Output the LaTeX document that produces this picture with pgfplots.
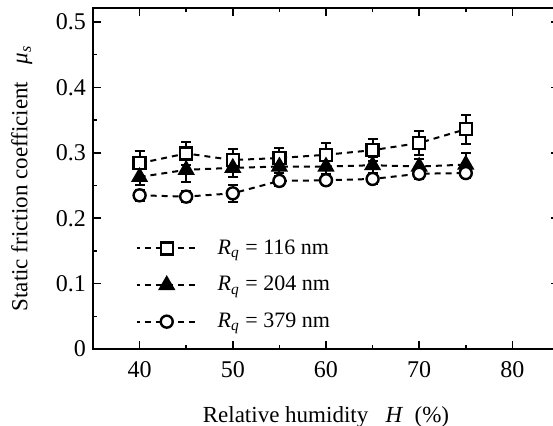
\documentclass[border=0pt]{standalone}
\usepackage{pgfplots}
\pgfplotsset{compat=1.18}
\usepackage{fontspec}
\setmainfont{Liberation Serif}

\begin{document}
\begin{tikzpicture}
\begin{axis}[
    name=ax,
    at={(0,0)}, anchor=south west,
    scale only axis,
    width=233pt, height=170.5pt,
    xmin=35, xmax=85,
    ymin=0, ymax=0.5214,
    xtick={40,50,...,80},
    ytick={0,0.1,...,0.5},
    minor x tick num=1,
    minor y tick num=1,
    tick align=inside,
    major tick length=4pt,
    minor tick length=2pt,
    axis line style={line width=1pt},
    every tick/.style={black, line width=0.8pt},
    tick label style={font=\fontsize{12}{14}\selectfont},
    xticklabel style={yshift=-2.5pt},
    /pgf/number format/assume math mode=true,
    yticklabel style={/pgf/number format/fixed, /pgf/number format/precision=1},
    xlabel={Relative humidity\ \ \ \textit{H}\ \ (\%)},
    ylabel={Static friction coefficient\ \ \ \textit{μ}\textsubscript{\textit{s}}},
    label style={font=\fontsize{11.5}{13}\selectfont},
    xlabel style={yshift=-8pt},
    ylabel style={yshift=5pt},
    legend style={draw=none, fill=none, at={(axis cs:38.9,0.180)}, anchor=north west,
        font=\fontsize{11}{13}\selectfont, row sep=5.5pt,
        nodes={inner xsep=10pt}},
    legend cell align=left,
    legend image code/.code={
        \draw[#1, dash pattern=on 3pt off 2.5pt, dash phase=1.5pt] (0pt,0pt) -- (30pt,0pt);
        \draw[#1, draw=none] plot coordinates {(15pt,0pt)};
    },
    error bars/error bar style={solid, line width=1pt},
    error bars/error mark options={solid, rotate=90, mark size=2.5pt, line width=1pt},
]
\addplot[black, line width=1pt, dash pattern=on 3pt off 2.5pt,
    mark=square*, mark size=3pt, mark options={solid, fill=white, draw=black, line width=1.2pt},
    error bars/.cd, y dir=both, y explicit]
    coordinates {(40,0.284) +- (0,0.019) (45,0.299) +- (0,0.017) (50,0.289) +- (0,0.017)
                 (55,0.292) +- (0,0.015) (60,0.297) +- (0,0.018) (65,0.304) +- (0,0.017)
                 (70,0.315) +- (0,0.019) (75,0.336) +- (0,0.022)};
\addlegendentry{\textit{R}\textsubscript{\textit{q}} = 116 nm}
\addplot[black, line width=1pt, dash pattern=on 3pt off 2.5pt,
    mark=triangle*, mark size=4pt, mark options={solid, fill=black, draw=black},
    error bars/.cd, y dir=both, y explicit]
    coordinates {(40,0.263) +- (0,0.012) (45,0.274) +- (0,0.018) (50,0.277) +- (0,0.014)
                 (55,0.279) +- (0,0.010) (60,0.279) +- (0,0.012) (65,0.281) +- (0,0.012)
                 (70,0.279) +- (0,0.012) (75,0.282) +- (0,0.018)};
\addlegendentry{\textit{R}\textsubscript{\textit{q}} = 204 nm}
\addplot[black, line width=1pt, dash pattern=on 3pt off 2.5pt,
    mark=*, mark size=3pt, mark options={solid, fill=white, draw=black, line width=1.2pt},
    error bars/.cd, y dir=both, y explicit]
    coordinates {(40,0.235) +- (0,0.008) (45,0.233) +- (0,0.008) (50,0.238) +- (0,0.013)
                 (55,0.257) +- (0,0.008) (60,0.258) +- (0,0.008) (65,0.260) +- (0,0.008)
                 (70,0.268) +- (0,0.008) (75,0.269) +- (0,0.008)};
\addlegendentry{\textit{R}\textsubscript{\textit{q}} = 379 nm}
\end{axis}
\pgfresetboundingbox
\path[use as bounding box] (-46.5pt,-38pt) rectangle (230pt,174.5pt);
\end{tikzpicture}
\end{document}
